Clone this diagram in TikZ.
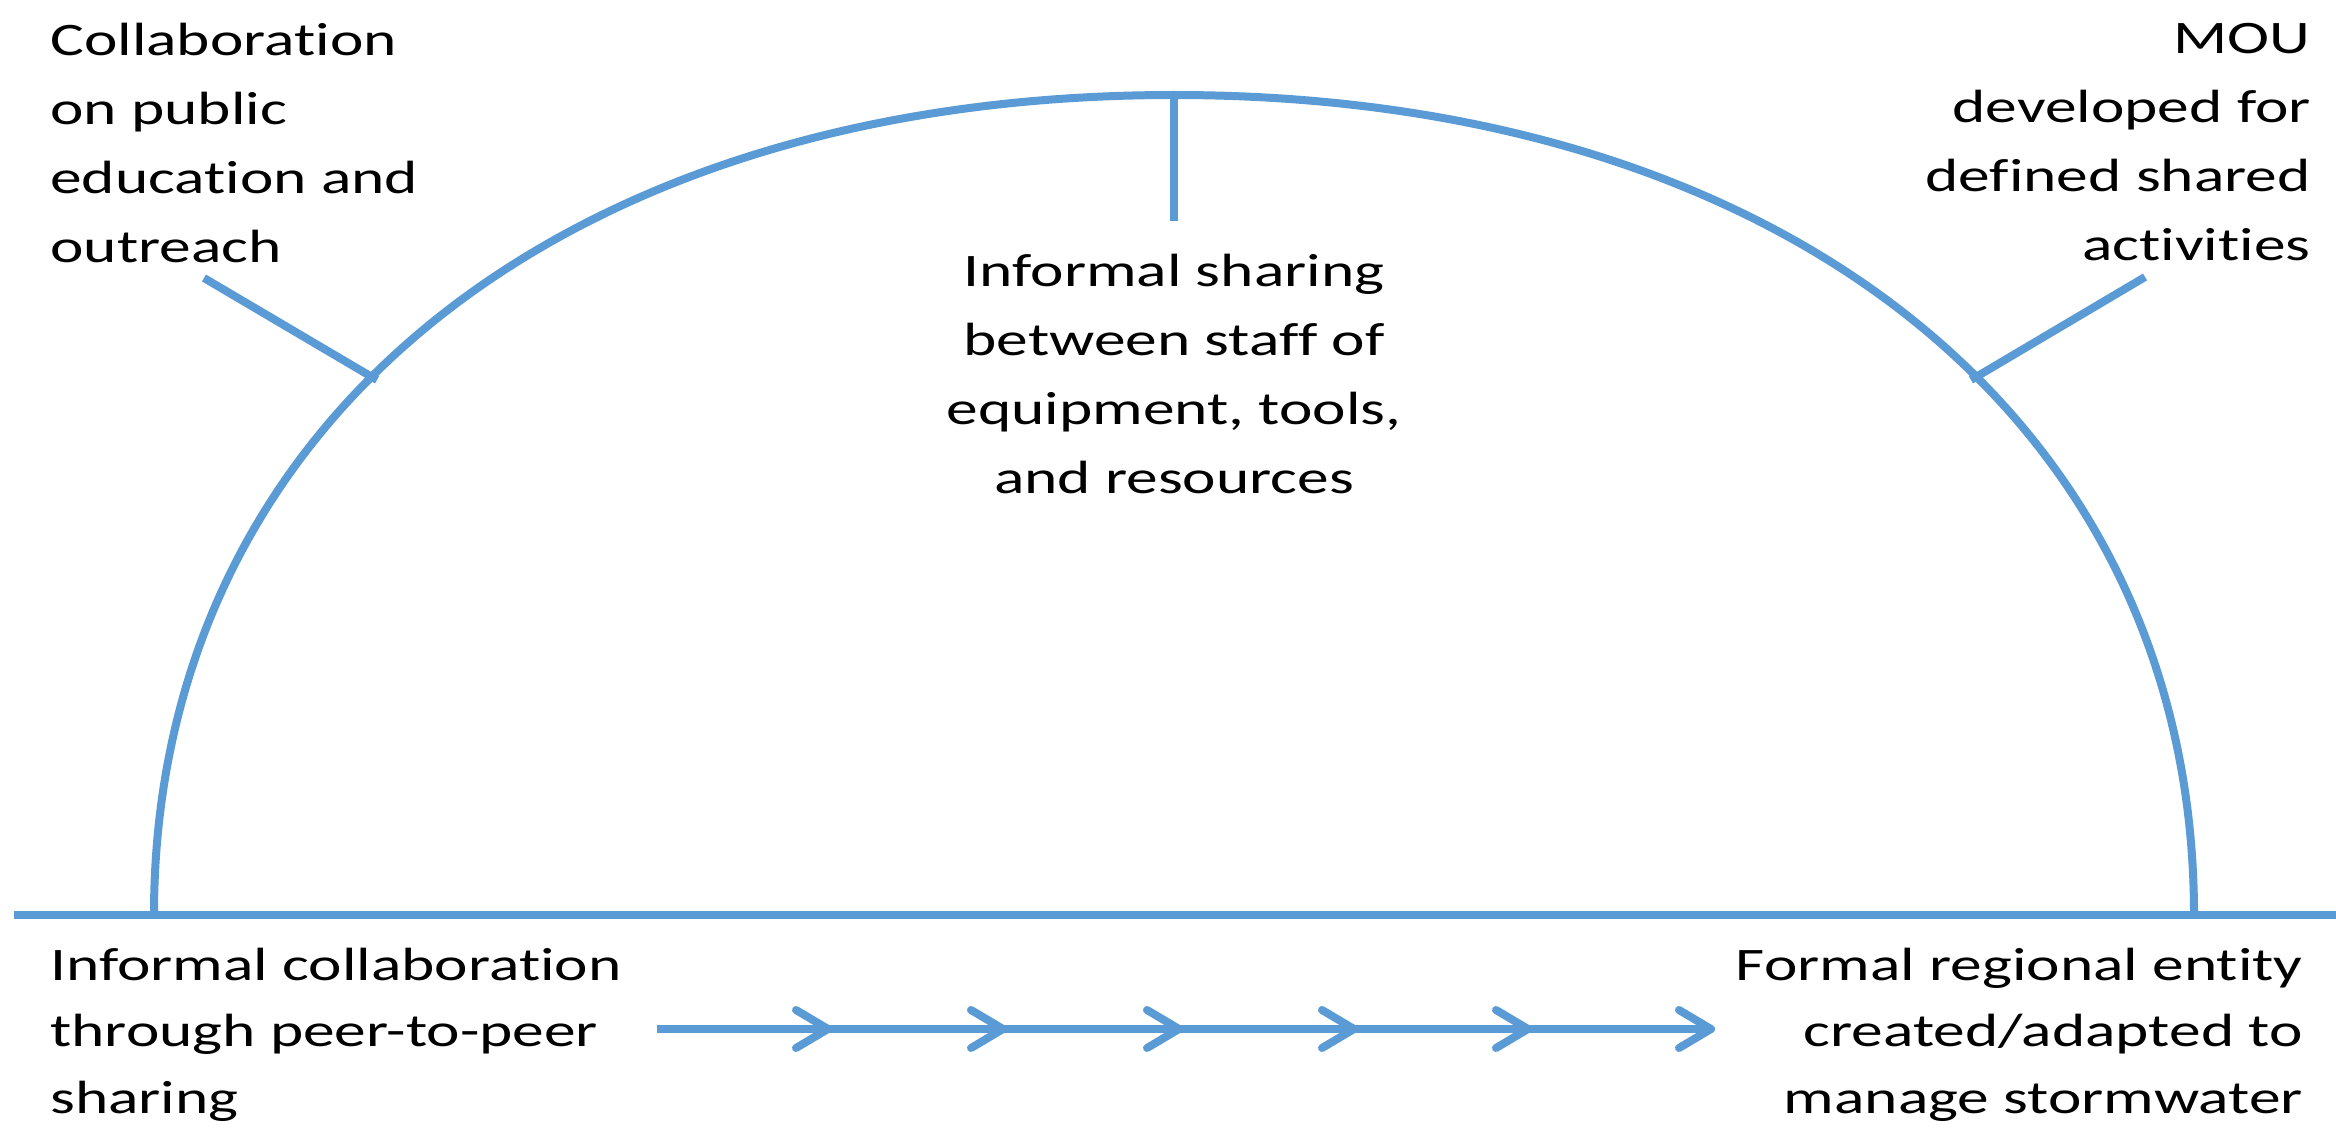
\documentclass[tikz,border=0pt]{standalone}
\usepackage{fontspec}
\setmainfont{Carlito}[FakeStretch=1.36,RawFeature={-liga;-calt;-clig;-dlig}]
\usetikzlibrary{arrows.meta,decorations.markings}
\definecolor{lineblue}{RGB}{91,155,213}
\newcommand\septi{t\kern0pt i}
\begin{document}
\begin{tikzpicture}[x=0.5pt,y=-0.5pt,
  curve/.style={draw=lineblue, line width=4pt},
  flow/.style={draw=lineblue, line width=4pt, -{Straight Barb[length=16pt,width=19pt,round]},
    postaction={decorate},
    decoration={markings,
      mark=at position 87.5pt with {\arrow{Straight Barb[length=16pt,width=19pt,round]}},
      mark=at position 175pt with {\arrow{Straight Barb[length=16pt,width=19pt,round]}},
      mark=at position 263pt with {\arrow{Straight Barb[length=16pt,width=19pt,round]}},
      mark=at position 350.5pt with {\arrow{Straight Barb[length=16pt,width=19pt,round]}},
      mark=at position 437.5pt with {\arrow{Straight Barb[length=16pt,width=19pt,round]}}}},
  lbl/.style={inner sep=0pt, text=black, font=\fontsize{23.3}{34.5}\selectfont},
  lblb/.style={inner sep=0pt, text=black, font=\fontsize{23.3}{33.25}\selectfont}]
\useasboundingbox (0,0) rectangle (2336,1129);
\fill[white] (0,0) rectangle (2336,1129);

% geometry
\coordinate (baseL) at (14,915);
\coordinate (baseR) at (2336,915);
\coordinate (footL) at (154,915);
\coordinate (footR) at (2194,915);
\coordinate (top) at (1174,95);
\coordinate (c1) at (154,423);
\coordinate (c2) at (562,95);
\coordinate (c3) at (1786,95);
\coordinate (c4) at (2194,423);
\coordinate (tickC) at (1174,221);
\coordinate (jointL) at (377,380);
\coordinate (tickL) at (204,278);
\coordinate (jointR) at (1971,380);
\coordinate (tickR) at (2145,277);
\coordinate (arrS) at (657,1029);
\coordinate (arrE) at (1715,1029);

% base line and arch
\draw[curve] (baseL) -- (baseR);
\draw[curve] (footL) .. controls (c1) and (c2) .. (top)
                     .. controls (c3) and (c4) .. (footR);
\draw[curve] (top) -- (tickC);
\draw[curve] (jointL) -- (tickL);
\draw[curve] (jointR) -- (tickR);

% progression arrow
\draw[flow] (arrS) -- (arrE);

% labels (anchored at the baseline of their last line)
\node[lbl, align=left, anchor=base west] (tl) at (50,262)
  {Collabora\septi on\\on public\\educa\septi on and\\outreach};
\node[lbl, align=right, anchor=base east] (tr) at (2311,260)
  {MOU\\developed for\\defined shared\\ac\septi vi\septi es};
\node[lbl, align=center, anchor=base] (ctr) at (1174,493)
  {Informal sharing\\between staff of\\equipment, tools,\\and resources};
\node[lblb, align=left, anchor=base west] (bl) at (50,1113)
  {Informal collabora\septi on\\through peer-to-peer\\sharing};
\node[lblb, align=right, anchor=base east] (br) at (2303,1113)
  {Formal regional en\septi ty\\created/adapted to\\manage stormwater};
\end{tikzpicture}
\end{document}
